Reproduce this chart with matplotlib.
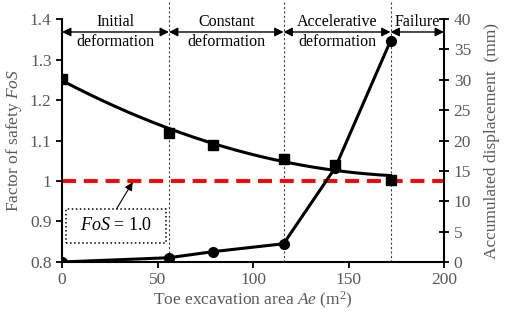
import numpy as np
import matplotlib
matplotlib.use("Agg")
import matplotlib.pyplot as plt
from matplotlib.patches import Rectangle

plt.rcParams['font.family'] = ['Liberation Serif', 'DejaVu Serif']
plt.rcParams['mathtext.fontset'] = 'custom'
plt.rcParams['mathtext.rm'] = 'Liberation Serif'
plt.rcParams['mathtext.it'] = 'Liberation Serif:italic'

# Data
area_fos = [0, 56, 79, 116, 143, 172]
fos = [1.253, 1.119, 1.089, 1.054, 1.040, 1.003]
area_disp = [0, 56, 79, 116, 143, 172]
disp = [0.0, 0.7, 1.7, 3.0, 15.5, 36.4]
stage_bounds = [0, 56, 116, 172, 200]
stage_labels = ["Initial\ndeformation", "Constant\ndeformation", "Accelerative\ndeformation", "Failure"]
fos_critical = 1.0

gray = '#595959'
fig = plt.figure(figsize=(5.05, 3.12), dpi=100)
ax = fig.add_axes([0.1228, 0.1603, 0.7564, 0.7787])
ax2 = ax.twinx()

# FoS trendline (2nd order fit) + markers
coef = np.polyfit(area_fos, fos, 2)
xs = np.linspace(0, max(area_fos), 200)
ax.plot(xs, np.polyval(coef, xs), color='black', lw=2.2, zorder=3)
ax.plot(area_fos, fos, 's', color='black', ms=7.5, zorder=4)

# critical FoS
ax.plot([0, 200], [fos_critical, fos_critical], color='#ff0000', lw=2.8, dashes=(3.6, 2.0), zorder=2)

# displacement
ax2.plot(area_disp, disp, '-o', color='black', lw=2.2, ms=7, zorder=3)

# stage boundaries
for b in stage_bounds[1:-1]:
    ax.plot([b, b], [0.8, 1.443], ls=(0, (2, 2)), color='#404040', lw=0.8, clip_on=False, zorder=1)

# stage arrows and labels
ya = 1.368
for i, lab in enumerate(stage_labels):
    x0, x1 = stage_bounds[i], stage_bounds[i + 1]
    ax.annotate('', xy=(x1, ya), xytext=(x0, ya),
                arrowprops=dict(arrowstyle='<|-|>', color='black', lw=1.0,
                                mutation_scale=13, shrinkA=0, shrinkB=0),
                annotation_clip=False)
    xm = (x0 + x1) / 2
    if '\n' in lab:
        top, bot = lab.split('\n')
        ax.text(xm, ya + 0.005, top, ha='center', va='bottom', fontsize=11.5)
        ax.text(xm, ya - 0.006, bot, ha='center', va='top', fontsize=11.5)
    else:
        ax.text(xm, ya + 0.005, lab, ha='center', va='bottom', fontsize=11.5)

# FoS = 1.0 box with arrow
ax.annotate('', xy=(37, 0.997), xytext=(28.5, 0.931),
            arrowprops=dict(arrowstyle='-|>', color='black', lw=0.8, mutation_scale=12, shrinkA=0, shrinkB=0))
ax.add_patch(Rectangle((2.2, 0.847), 52.3, 0.084, fc='white', ec='black', ls=':', lw=1.1, zorder=5))
ax.text(28.3, 0.889, r'$\it{FoS}$ = 1.0', ha='center', va='center', fontsize=13, zorder=6)

# axes formatting
ax.set_xlim(0, 200)
ax.set_ylim(0.8, 1.4)
ax2.set_ylim(0, 40)
ax.set_xticks([0, 50, 100, 150, 200])
ax.set_yticks([0.8, 0.9, 1.0, 1.1, 1.2, 1.3, 1.4])
ax.set_yticklabels(['0.8', '0.9', '1', '1.1', '1.2', '1.3', '1.4'])
ax2.set_yticks(range(0, 41, 5))

for a in (ax, ax2):
    a.spines['top'].set_visible(False)
    a.tick_params(labelsize=12.5, labelcolor=gray, direction='out', width=1.3, length=4)
ax2.tick_params(direction='inout', length=7)
ax.spines['right'].set_visible(False)
ax2.spines['left'].set_visible(False)
ax2.spines['bottom'].set_visible(False)
for s in ('left', 'bottom'):
    ax.spines[s].set_linewidth(1.5)
ax2.spines['right'].set_linewidth(1.5)

ax.set_xlabel(r'Toe excavation area $\it{Ae}$ (m$^2$)', fontsize=12.5, color=gray, labelpad=1)
ax.set_ylabel(r'Factor of safety $\it{FoS}$', fontsize=12.5, color=gray, labelpad=4)
ax2.set_ylabel('Accumulated displacement  (mm)', fontsize=12.5, color=gray, labelpad=9)

fig.savefig('out.png', dpi=100)
